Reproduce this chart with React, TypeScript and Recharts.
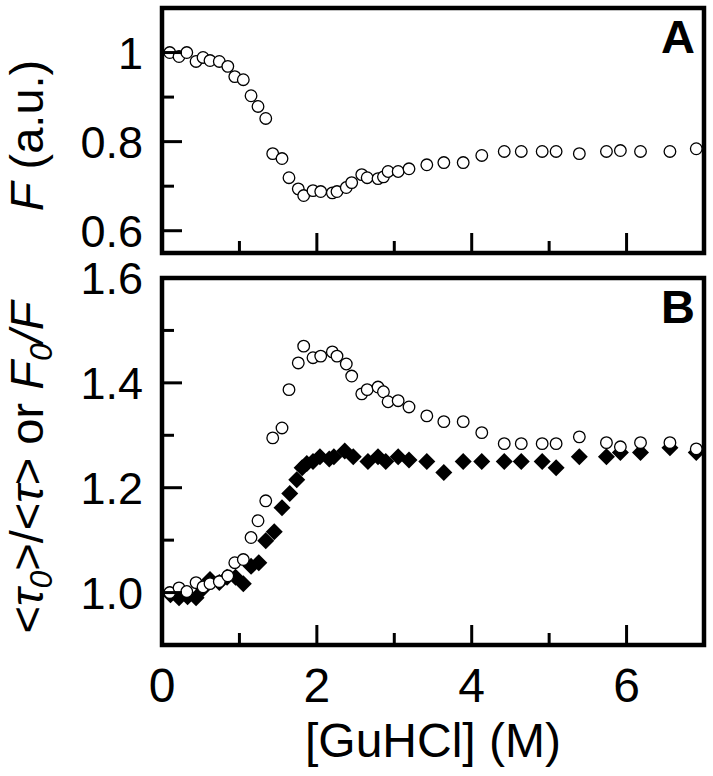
import {
  ScatterChart,
  Scatter,
  XAxis,
  YAxis,
  ReferenceArea,
  Label,
} from 'recharts'

// GuHCl concentration (M) for the open-circle series (both panels)
const CIRCLE_X = [
  0.1, 0.22, 0.32, 0.44, 0.53, 0.62, 0.74, 0.85, 0.94, 1.05, 1.15, 1.24, 1.34, 1.43, 1.55,
  1.64, 1.76, 1.83, 1.95, 2.05, 2.2, 2.26, 2.38, 2.45, 2.58, 2.65, 2.79, 2.86, 2.92, 3.05,
  3.19, 3.42, 3.64, 3.89, 4.13, 4.42, 4.64, 4.91, 5.09, 5.39, 5.74, 5.92, 6.18, 6.56, 6.9,
]
// panel A: fluorescence F (a.u.)
const F_VALUES = [
  1.0, 0.991, 1.0, 0.98, 0.989, 0.982, 0.98, 0.969, 0.946, 0.939, 0.903, 0.879, 0.852, 0.773,
  0.762, 0.719, 0.694, 0.679, 0.69, 0.688, 0.685, 0.688, 0.697, 0.708, 0.726, 0.719, 0.717,
  0.721, 0.733, 0.733, 0.739, 0.748, 0.753, 0.753, 0.769, 0.778, 0.778, 0.778, 0.778, 0.773,
  0.778, 0.78, 0.778, 0.778, 0.784,
]
// panel B: F0/F (open circles)
const F0_OVER_F = [
  1.0, 1.009, 1.002, 1.019, 1.011, 1.017, 1.021, 1.032, 1.057, 1.063, 1.105, 1.137, 1.175,
  1.295, 1.314, 1.387, 1.438, 1.47, 1.448, 1.451, 1.459, 1.451, 1.436, 1.413, 1.379, 1.387,
  1.392, 1.383, 1.364, 1.366, 1.354, 1.337, 1.326, 1.326, 1.305, 1.284, 1.284, 1.284, 1.284,
  1.297, 1.286, 1.278, 1.286, 1.286, 1.274,
]
// panel B: <tau0>/<tau> (filled diamonds)
const DIAMOND_X = [
  0.11, 0.22, 0.33, 0.44, 0.53, 0.62, 0.74, 0.84, 0.95, 1.05, 1.15, 1.25, 1.34, 1.45, 1.55,
  1.65, 1.74, 1.81, 1.87, 1.95, 2.04, 2.16, 2.22, 2.36, 2.47, 2.66, 2.79, 2.89, 3.05, 3.19,
  3.42, 3.64, 3.89, 4.13, 4.42, 4.64, 4.91, 5.09, 5.39, 5.74, 5.92, 6.18, 6.56, 6.9,
]
const TAU_RATIO = [
  0.996, 0.99, 0.992, 0.99, 1.008, 1.025, 1.019, 1.029, 1.029, 1.017, 1.05, 1.057, 1.099,
  1.116, 1.162, 1.189, 1.215, 1.238, 1.246, 1.25, 1.259, 1.255, 1.259, 1.27, 1.259, 1.25,
  1.259, 1.25, 1.259, 1.253, 1.25, 1.229, 1.25, 1.25, 1.25, 1.25, 1.25, 1.238, 1.259, 1.259,
  1.267, 1.267, 1.276, 1.267,
]

const X_TICKS = [0, 1, 2, 3, 4, 5, 6]
const X_LABELED = [0, 2, 4, 6]
const TOP_Y_TICKS = [0.6, 0.7, 0.8, 0.9, 1.0]
const TOP_Y_LABELS: Record<string, string> = { '0.6': '0.6', '0.8': '0.8', '1': '1' }
const BOT_Y_TICKS = [1.0, 1.1, 1.2, 1.3, 1.4, 1.5, 1.6]
const BOT_Y_LABELS: Record<string, string> = { '1': '1.0', '1.2': '1.2', '1.4': '1.4', '1.6': '1.6' }

const FONT = '"Liberation Sans", Arial, Helvetica, sans-serif'
const LONG_TICK = 20
const SHORT_TICK = 12

const circleData = (ys: number[]) => CIRCLE_X.map((x, i) => ({ x, y: ys[i] }))
const diamondData = DIAMOND_X.map((x, i) => ({ x, y: TAU_RATIO[i] }))

function XTick(props: any) {
  const { x, y, payload, showLabel } = props
  const v = payload.value
  const major = X_LABELED.includes(v)
  return (
    <g>
      <line x1={x} x2={x} y1={y} y2={y - (major ? LONG_TICK : SHORT_TICK)} stroke="#000" strokeWidth={3} />
      {showLabel && major && (
        <text x={x} y={y + 23} dy="0.71em" textAnchor="middle" fontSize={48} fontFamily={FONT} fill="#000">
          {v}
        </text>
      )}
    </g>
  )
}

function YTick(props: any) {
  const { x, y, payload, labels } = props
  const key = String(Math.round(payload.value * 10) / 10)
  const label = labels[key]
  return (
    <g>
      <line x1={x} x2={x + (label ? LONG_TICK : SHORT_TICK)} y1={y} y2={y} stroke="#000" strokeWidth={3} />
      {label && (
        <text x={x - 19} y={y} dy="0.355em" textAnchor="end" fontSize={45} fontFamily={FONT} fill="#000">
          {label}
        </text>
      )}
    </g>
  )
}

const openCircle = (p: any) => (
  <circle cx={p.cx} cy={p.cy} r={5.8} fill="#fff" stroke="#000" strokeWidth={1.3} />
)
const diamond = (p: any) => (
  <polygon
    points={`${p.cx},${p.cy - 8.5} ${p.cx + 8.5},${p.cy} ${p.cx},${p.cy + 8.5} ${p.cx - 8.5},${p.cy}`}
    fill="#000"
  />
)

const panelLetter = (letter: string) => (p: any) => {
  const vb = p.viewBox
  return (
    <text
      x={vb.x + vb.width - 9}
      y={vb.y + 11}
      dy="0.72em"
      textAnchor="end"
      fontSize={47}
      fontWeight="bold"
      fontFamily={FONT}
      fill="#000"
    >
      {letter}
    </text>
  )
}

export default function App() {
  return (
    <div style={{ position: 'absolute', left: 0, top: 0, width: 713, height: 776, background: '#fff' }}>
      <div style={{ position: 'absolute', left: 0, top: 0 }}>
        <ScatterChart width={713} height={265} margin={{ top: 8, right: 9, bottom: 0, left: 100 }}>
          <XAxis
            type="number"
            dataKey="x"
            domain={[0, 7]}
            ticks={X_TICKS}
            height={12}
            axisLine={false}
            tickLine={false}
            tickSize={0}
            tickMargin={0}
            tick={(p: any) => <XTick {...p} showLabel={false} />}
            allowDataOverflow
          />
          <YAxis
            type="number"
            dataKey="y"
            domain={[0.55, 1.1]}
            ticks={TOP_Y_TICKS}
            width={62}
            axisLine={false}
            tickLine={false}
            tickSize={0}
            tickMargin={0}
            tick={(p: any) => <YTick {...p} labels={TOP_Y_LABELS} />}
            allowDataOverflow
          >
            <Label
              content={(p: any) => {
                const cy = p.viewBox.y + p.viewBox.height / 2 + 5
                return (
                  <text
                    x={43}
                    y={cy}
                    transform={`rotate(-90, 43, ${cy})`}
                    textAnchor="middle"
                    fontSize={47}
                    fontFamily={FONT}
                    fill="#000"
                  >
                    <tspan fontStyle="italic">F</tspan>
                    <tspan> (a.u.)</tspan>
                  </text>
                )
              }}
            />
          </YAxis>
          <ReferenceArea
            x1={0}
            x2={7}
            y1={0.55}
            y2={1.1}
            fill="none"
            fillOpacity={0}
            stroke="#000"
            strokeWidth={4.5}
            label={panelLetter('A')}
          />
          <Scatter data={circleData(F_VALUES)} shape={openCircle} isAnimationActive={false} />
        </ScatterChart>
      </div>
      <div style={{ position: 'absolute', left: 0, top: 248 }}>
        <ScatterChart width={713} height={528} margin={{ top: 30, right: 9, bottom: 0, left: 100 }}>
          <XAxis
            type="number"
            dataKey="x"
            domain={[0, 7]}
            ticks={X_TICKS}
            height={131}
            axisLine={false}
            tickLine={false}
            tickSize={0}
            tickMargin={0}
            tick={(p: any) => <XTick {...p} showLabel />}
            allowDataOverflow
          >
            <Label
              content={(p: any) => (
                <text
                  x={p.viewBox.x + p.viewBox.width / 2}
                  y={p.viewBox.y + 112}
                  textAnchor="middle"
                  fontSize={48}
                  fontFamily={FONT}
                  fill="#000"
                >
                  [GuHCl] (M)
                </text>
              )}
            />
          </XAxis>
          <YAxis
            type="number"
            dataKey="y"
            domain={[0.9, 1.6]}
            ticks={BOT_Y_TICKS}
            width={62}
            axisLine={false}
            tickLine={false}
            tickSize={0}
            tickMargin={0}
            tick={(p: any) => <YTick {...p} labels={BOT_Y_LABELS} />}
            allowDataOverflow
          >
            <Label
              content={(p: any) => {
                const cy = p.viewBox.y + p.viewBox.height / 2 + 6
                return (
                  <text
                    x={43}
                    y={cy}
                    transform={`rotate(-90, 43, ${cy})`}
                    textAnchor="middle"
                    fontSize={47}
                    fontFamily={FONT}
                    fill="#000"
                  >
                    <tspan>&lt;</tspan>
                    <tspan fontStyle="italic">τ</tspan>
                    <tspan fontStyle="italic" fontSize={32} dy={9}>0</tspan>
                    <tspan dy={-9}>&gt;/&lt;</tspan>
                    <tspan fontStyle="italic">τ</tspan>
                    <tspan>&gt; or </tspan>
                    <tspan fontStyle="italic">F</tspan>
                    <tspan fontStyle="italic" fontSize={32} dy={9}>0</tspan>
                    <tspan fontStyle="italic" dy={-9}>/F</tspan>
                  </text>
                )
              }}
            />
          </YAxis>
          <ReferenceArea
            x1={0}
            x2={7}
            y1={0.9}
            y2={1.6}
            fill="none"
            fillOpacity={0}
            stroke="#000"
            strokeWidth={4.5}
            label={panelLetter('B')}
          />
          <Scatter data={diamondData} shape={diamond} isAnimationActive={false} />
          <Scatter data={circleData(F0_OVER_F)} shape={openCircle} isAnimationActive={false} />
        </ScatterChart>
      </div>
    </div>
  )
}
